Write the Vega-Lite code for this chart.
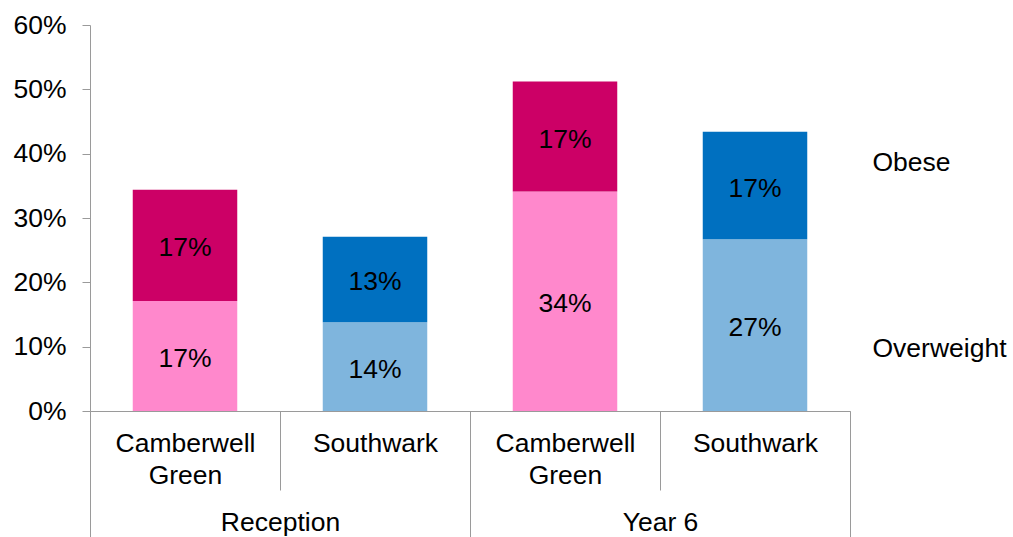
{
  "$schema": "https://vega.github.io/schema/vega-lite/v6.json",
  "width": 760,
  "height": 386,
  "autosize": {"type": "none"},
  "padding": {"left": 90, "top": 25, "right": 163, "bottom": 126},
  "background": "#ffffff",
  "config": {
    "font": "Liberation Sans",
    "view": {"stroke": null},
    "axis": {"domainColor": "#9a9a9a", "tickColor": "#9a9a9a", "labelColor": "#000000", "labelFont": "Liberation Sans", "labelFontSize": 26.5, "title": null}
  },
  "data": {
    "values": [
      {"cat": "R-CG", "grp": "Reception", "seg": "Overweight", "series": "CG-Overweight", "value": 0.171},
      {"cat": "R-CG", "grp": "Reception", "seg": "Obese", "series": "CG-Obese", "value": 0.173},
      {"cat": "R-SW", "grp": "Reception", "seg": "Overweight", "series": "SW-Overweight", "value": 0.138},
      {"cat": "R-SW", "grp": "Reception", "seg": "Obese", "series": "SW-Obese", "value": 0.133},
      {"cat": "Y-CG", "grp": "Year 6", "seg": "Overweight", "series": "CG-Overweight", "value": 0.341},
      {"cat": "Y-CG", "grp": "Year 6", "seg": "Obese", "series": "CG-Obese", "value": 0.171},
      {"cat": "Y-SW", "grp": "Year 6", "seg": "Overweight", "series": "SW-Overweight", "value": 0.267},
      {"cat": "Y-SW", "grp": "Year 6", "seg": "Obese", "series": "SW-Obese", "value": 0.167}
    ]
  },
  "layer": [
    {
      "mark": {"type": "bar", "opacity": 0},
      "encoding": {
        "x": {
          "field": "grp", "type": "nominal", "sort": ["Reception", "Year 6"],
          "scale": {"paddingInner": 0, "paddingOuter": 0},
          "axis": {"orient": "bottom", "domain": false, "tickBand": "extent", "tickSize": 126, "labelPadding": -15, "labelBaseline": "middle", "labelAngle": 0}
        }
      }
    },
    {
      "transform": [
        {"stack": "value", "groupby": ["cat"], "sort": [{"field": "seg", "order": "descending"}], "as": ["y0", "y1"]}
      ],
      "mark": {"type": "bar", "width": {"band": 0.55}},
      "encoding": {
        "x": {
          "field": "cat", "type": "nominal", "sort": ["R-CG", "R-SW", "Y-CG", "Y-SW"],
          "scale": {"paddingInner": 0, "paddingOuter": 0},
          "axis": {
            "orient": "bottom", "tickBand": "extent", "tickSize": 79, "labelPadding": -59.5,
            "labelBaseline": "top", "labelLineHeight": 32, "labelAngle": 0,
            "labelExpr": "(datum.value == 'R-CG' || datum.value == 'Y-CG') ? ['Camberwell', 'Green'] : ((datum.value == 'R-SW' || datum.value == 'Y-SW') ? 'Southwark' : '')"
          }
        },
        "y": {
          "field": "y0", "type": "quantitative",
          "scale": {"domain": [0, 0.6]},
          "axis": {"values": [0, 0.1, 0.2, 0.3, 0.4, 0.5, 0.6], "format": ".0%", "grid": false, "tickSize": 8, "labelPadding": 16}
        },
        "y2": {"field": "y1"},
        "color": {
          "field": "series", "type": "nominal",
          "scale": {"domain": ["CG-Overweight", "CG-Obese", "SW-Overweight", "SW-Obese"], "range": ["#FF88CC", "#CC0066", "#7FB5DD", "#0070C0"]},
          "legend": null
        }
      }
    },
    {
      "transform": [
        {"stack": "value", "groupby": ["cat"], "sort": [{"field": "seg", "order": "descending"}], "as": ["y0", "y1"]},
        {"calculate": "(datum.y0 + datum.y1) / 2", "as": "mid"}
      ],
      "mark": {"type": "text", "fontSize": 26.5, "color": "#000000", "baseline": "middle", "align": "center", "dy": 3},
      "encoding": {
        "x": {"field": "cat", "type": "nominal", "sort": ["R-CG", "R-SW", "Y-CG", "Y-SW"], "scale": {"paddingInner": 0, "paddingOuter": 0}, "axis": null},
        "y": {"field": "mid", "type": "quantitative"},
        "text": {"field": "value", "type": "quantitative", "format": ".0%"}
      }
    },
    {
      "data": {"values": [{"seg": "Obese"}, {"seg": "Overweight"}]},
      "mark": {"type": "point", "opacity": 0},
      "encoding": {
        "shape": {
          "field": "seg", "type": "nominal",
          "legend": {"orient": "none", "legendX": 756, "legendY": 125, "title": null, "symbolOpacity": 0, "symbolSize": 0, "symbolStrokeWidth": 0, "labelOffset": 0, "padding": 0, "labelFontSize": 26.5, "labelColor": "#000000", "labelBaseline": "middle", "labelLimit": 300, "rowPadding": 159}
        }
      }
    }
  ],
  "resolve": {"scale": {"x": "independent"}}
}
